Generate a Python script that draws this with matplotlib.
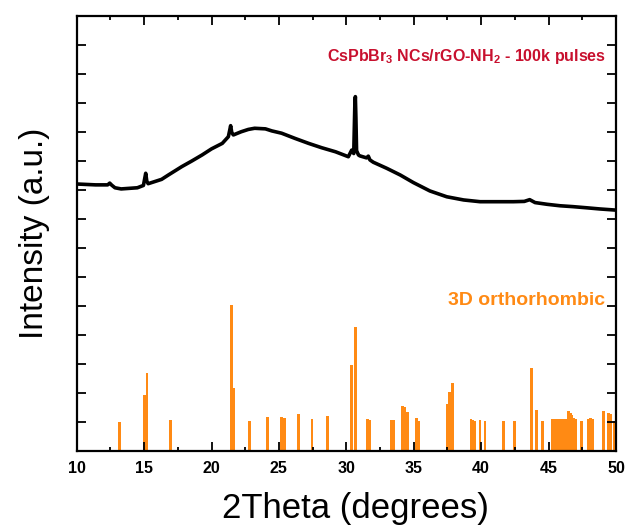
import matplotlib
matplotlib.use("Agg")
import matplotlib.pyplot as plt
from matplotlib.ticker import MultipleLocator, NullFormatter

plt.rcParams['font.family'] = ['Liberation Sans', 'DejaVu Sans']
plt.rcParams['mathtext.fontset'] = 'custom'
plt.rcParams['mathtext.rm'] = 'Liberation Sans'
plt.rcParams['mathtext.bf'] = 'Liberation Sans:bold'

# measured XRD pattern (offset upward)
two_theta = [10.0, 11.4, 12.3, 12.45, 12.6, 12.84, 13.3, 14.5, 14.95, 15.12, 15.2,
             15.3, 16.3, 16.8, 17.8, 18.53, 19.3, 20.0, 20.8, 21.25, 21.35, 21.42,
             21.5, 21.62, 22.2, 22.73, 23.2, 24.0, 24.47, 25.2, 26.2, 27.2, 28.17,
             29.2, 30.15, 30.4, 30.55, 30.63, 30.67, 30.71, 30.76, 30.9, 31.0, 31.5,
             31.63, 31.75, 32.0, 33.0, 34.0, 34.97, 36.2, 37.45, 38.7, 39.92, 41.2,
             42.39, 43.2, 43.6, 44.0, 44.9, 45.85, 46.8, 47.83, 48.8, 50.0]
intensity = [9.20, 9.17, 9.17, 9.23, 9.16, 9.07, 9.03, 9.07, 9.15, 9.57, 9.30,
             9.21, 9.36, 9.51, 9.80, 9.99, 10.20, 10.41, 10.60, 10.83, 11.05, 11.21,
             10.98, 10.89, 11.00, 11.08, 11.12, 11.10, 11.03, 10.95, 10.77, 10.60, 10.45,
             10.31, 10.14, 10.37, 10.25, 11.90, 12.21, 11.50, 10.35, 10.20, 10.17, 10.10,
             10.16, 10.03, 9.95, 9.74, 9.51, 9.25, 8.96, 8.76, 8.65, 8.59, 8.59,
             8.59, 8.60, 8.66, 8.56, 8.50, 8.45, 8.42, 8.38, 8.34, 8.30]

# reference reflections, 3D orthorhombic CsPbBr3
ref_pos = [13.16, 15.04, 15.22, 16.97, 21.50, 21.65, 22.83, 24.17, 25.20, 25.40,
           26.44, 27.46, 28.62, 30.39, 30.69, 31.55, 31.72, 33.36, 33.52, 34.18,
           34.35, 34.52, 35.20, 35.35, 37.50, 37.65, 37.85, 39.25, 39.40, 39.52,
           39.92, 40.29, 41.65, 42.45, 43.76, 44.12, 44.55, 45.25, 45.35, 45.45,
           45.55, 45.65, 45.75, 45.85, 45.95, 46.05, 46.15, 46.25, 46.35, 46.50,
           46.62, 46.75, 46.87, 46.98, 47.46, 47.98, 48.12, 48.28, 49.06, 49.44,
           49.60, 49.90]
ref_int = [1.01, 1.93, 2.68, 1.07, 5.03, 2.18, 1.03, 1.18, 1.18, 1.15,
           1.26, 1.09, 1.22, 2.96, 4.28, 1.09, 1.08, 1.07, 1.07, 1.55,
           1.50, 1.34, 1.13, 1.05, 1.62, 2.04, 2.33, 1.09, 1.07, 1.05,
           1.07, 1.05, 1.05, 1.05, 2.87, 1.40, 1.05, 1.09, 1.09, 1.09,
           1.09, 1.09, 1.09, 1.09, 1.09, 1.10, 1.09, 1.09, 1.09, 1.37,
           1.32, 1.25, 1.12, 1.09, 1.05, 1.10, 1.12, 1.11, 1.39, 1.30,
           1.28, 1.05]

fig = plt.figure(figsize=(6.27, 5.26), dpi=100)
ax = fig.add_axes([0.1223, 0.1426, 0.8601, 0.8276])

ax.bar(ref_pos, ref_int, width=0.2, color='#ff8a14', linewidth=0)
ax.plot(two_theta, intensity, color='black', lw=2.6, solid_joinstyle='round')

ax.set_xlim(10, 50)
ax.set_ylim(0, 15)

ax.xaxis.set_major_locator(MultipleLocator(5))
ax.xaxis.set_minor_locator(MultipleLocator(2.5))
ax.yaxis.set_major_locator(MultipleLocator(1))
ax.yaxis.set_major_formatter(NullFormatter())
ax.tick_params(which='both', direction='in', top=True, right=True, width=1.3)
ax.tick_params(which='major', length=6.5)
ax.tick_params(which='minor', length=3)
ax.tick_params(axis='x', which='major', pad=7, labelsize=11.5)
for lab in ax.get_xticklabels():
    lab.set_fontweight('bold')
for s in ax.spines.values():
    s.set_linewidth(1.6)

ax.set_xlabel('2Theta (degrees)', fontsize=25, labelpad=12)
ax.xaxis.label.set_x(0.516)
ax.set_ylabel('Intensity (a.u.)', fontsize=24)
ax.yaxis.set_label_coords(-0.05, 0.5)

ax.text(49.27, 13.44, r'CsPbBr$_\mathbf{3}$ NCs/rGO-NH$_\mathbf{2}$ - 100k pulses',
        color='#c8102e', fontsize=11.5, fontweight='bold', ha='right', va='baseline')
ax.text(49.19, 5.03, '3D orthorhombic', color='#ff8a14', fontsize=14,
        fontweight='bold', ha='right', va='baseline')

fig.savefig('out.png', dpi=100)
